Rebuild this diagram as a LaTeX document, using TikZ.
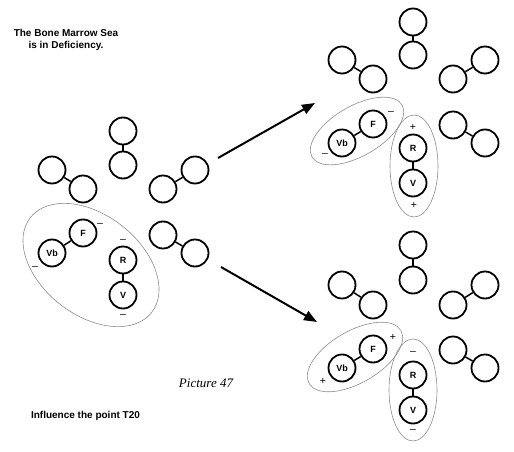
\documentclass[tikz,border=0pt]{standalone}
\usepackage{fontspec}
\setmainfont{Liberation Sans}
\newfontfamily\tms{Liberation Serif}
\usetikzlibrary{shapes.geometric,arrows.meta}
\tikzset{
  ball/.style={circle, draw, line width=1.8pt, minimum size=27pt, inner sep=0pt, font=\bfseries\fontsize{9}{10}\selectfont},
  link/.style={line width=1.5pt},
  halo/.style={ellipse, draw=black!45, line width=0.6pt, inner sep=0pt},
  sgn/.style={inner sep=0pt, font=\fontsize{10.5}{11}\selectfont},
  title/.style={align=center, inner sep=0pt, font=\bfseries\fontsize{10}{12}\selectfont},
  bigarrow/.style={line width=2pt, -{Triangle[length=13pt,width=10pt]}, shorten >=0pt}
}
\begin{document}
\begin{tikzpicture}[x=1pt,y=1pt]
\useasboundingbox (0,0) rectangle (514,-452);
% texts
\node[title] (t1) at (66,-40) {The Bone Marrow Sea\\is in Deficiency.};
\node[title] (t2) at (85.5,-416) {Influence the point T20};
\node[inner sep=0pt, font=\tms\itshape\fontsize{13}{14}\selectfont] (pic) at (206,-383) {Picture 47};

% ---------- left cluster ----------
\node[ball] (la1) at (123,-131) {};
\node[ball] (la2) at (123,-165) {};
\draw[link] (la1) -- (la2);
\node[ball] (lb1) at (52,-170) {};
\node[ball] (lb2) at (83,-189) {};
\draw[link] (lb1) -- (lb2);
\node[ball] (lc1) at (163,-189) {};
\node[ball] (lc2) at (195,-170) {};
\draw[link] (lc1) -- (lc2);
\node[ball] (ld1) at (163,-235) {};
\node[ball] (ld2) at (195,-253) {};
\draw[link] (ld1) -- (ld2);
\node[ball] (lF) at (83,-233) {F};
\node[ball] (lVb) at (52,-253) {Vb};
\draw[link] (lF) -- (lVb);
\node[ball] (lR) at (123,-260) {R};
\node[ball] (lV) at (123,-295) {V};
\draw[link] (lR) -- (lV);
\node[halo, minimum width=154pt, minimum height=100pt, rotate=-38] (lg) at (91,-265) {};
\node[sgn] (ls1) at (100,-225) {–};
\node[sgn] (ls2) at (35,-268) {–};
\node[sgn] (ls3) at (123,-241) {–};
\node[sgn] (ls4) at (123,-316) {–};

% ---------- top-right cluster ----------
\node[ball] (ua1) at (413,-22) {};
\node[ball] (ua2) at (413,-55) {};
\draw[link] (ua1) -- (ua2);
\node[ball] (ub1) at (342,-60) {};
\node[ball] (ub2) at (373,-79) {};
\draw[link] (ub1) -- (ub2);
\node[ball] (uc1) at (453,-79) {};
\node[ball] (uc2) at (485,-60) {};
\draw[link] (uc1) -- (uc2);
\node[ball] (ud1) at (453,-125) {};
\node[ball] (ud2) at (485,-143) {};
\draw[link] (ud1) -- (ud2);
\node[ball] (uF) at (373,-124) {F};
\node[ball] (uVb) at (342,-143) {Vb};
\draw[link] (uF) -- (uVb);
\node[ball] (uR) at (413,-148) {R};
\node[ball] (uV) at (413,-183) {V};
\draw[link] (uR) -- (uV);
\node[halo, minimum width=104pt, minimum height=50pt, rotate=30] (ug1) at (357,-131) {};
\node[halo, minimum width=48pt, minimum height=102pt] (ug2) at (414,-166) {};
\node[sgn] (us1) at (391,-113) {–};
\node[sgn] (us2) at (325,-155) {–};
\node[sgn] (us3) at (413,-127) {+};
\node[sgn] (us4) at (414,-205) {+};

% ---------- bottom-right cluster ----------
\node[ball] (wa1) at (413,-245) {};
\node[ball] (wa2) at (413,-280) {};
\draw[link] (wa1) -- (wa2);
\node[ball] (wb1) at (342,-285) {};
\node[ball] (wb2) at (373,-305) {};
\draw[link] (wb1) -- (wb2);
\node[ball] (wc1) at (453,-305) {};
\node[ball] (wc2) at (485,-285) {};
\draw[link] (wc1) -- (wc2);
\node[ball] (wd1) at (453,-350) {};
\node[ball] (wd2) at (485,-368) {};
\draw[link] (wd1) -- (wd2);
\node[ball] (wF) at (373,-349) {F};
\node[ball] (wVb) at (342,-368) {Vb};
\draw[link] (wF) -- (wVb);
\node[ball] (wR) at (413,-375) {R};
\node[ball] (wV) at (413,-410) {V};
\draw[link] (wR) -- (wV);
\node[halo, minimum width=106pt, minimum height=52pt, rotate=30] (wg1) at (355,-357) {};
\node[halo, minimum width=48pt, minimum height=102pt] (wg2) at (413,-390) {};
\node[sgn] (ws1) at (393,-337) {+};
\node[sgn] (ws2) at (323,-381) {+};
\node[sgn] (ws3) at (413,-353) {–};
\node[sgn] (ws4) at (413,-431) {–};

% ---------- arrows ----------
\coordinate (a1s) at (218,-158);
\coordinate (a1e) at (315,-103);
\coordinate (a2s) at (221,-267);
\coordinate (a2e) at (317,-322);
\draw[bigarrow] (a1s) -- (a1e);
\draw[bigarrow] (a2s) -- (a2e);
\end{tikzpicture}
\end{document}
